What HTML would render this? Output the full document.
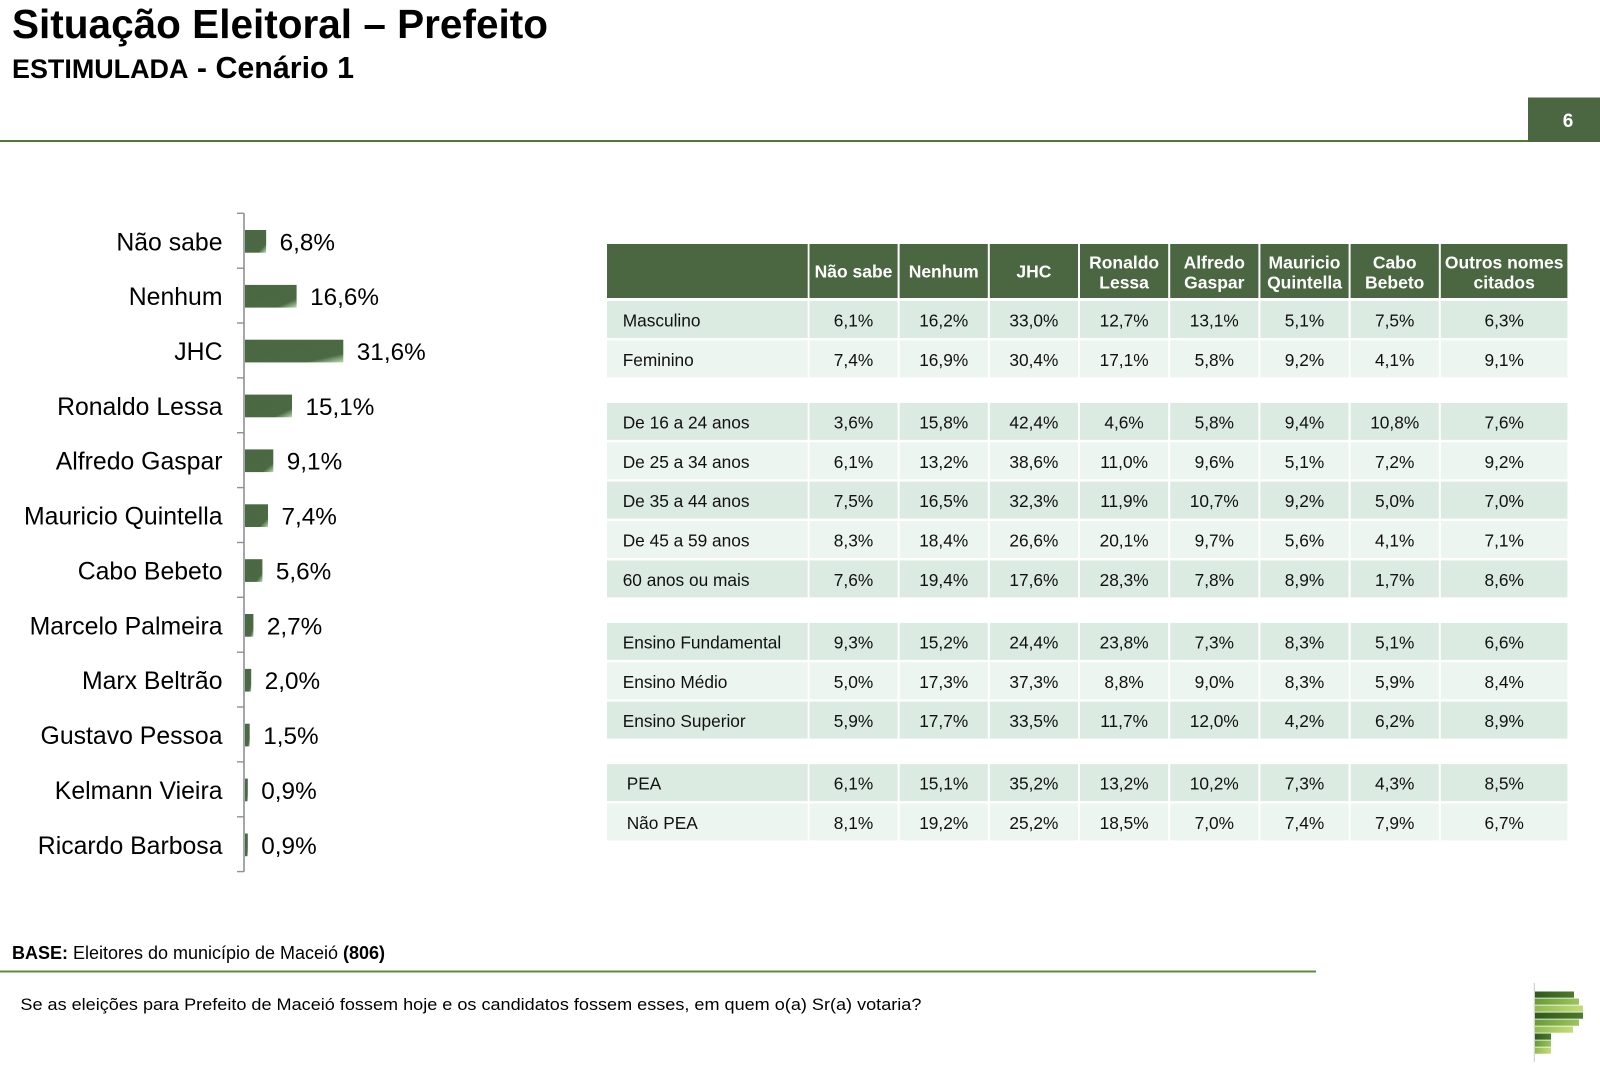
<!DOCTYPE html>
<html>
<head>
<meta charset="utf-8">
<style>
html,body{margin:0;padding:0;background:#fff;}
svg{display:block;}
text{font-family:"Liberation Sans",Arial,sans-serif;}
</style>
</head>
<body>
<svg width="1600" height="1070" viewBox="0 0 1600 1070" xmlns="http://www.w3.org/2000/svg">
<defs>
  <linearGradient id="bg" x1="0" y1="0" x2="1" y2="1">
    <stop offset="0" stop-color="#4a6741"/>
    <stop offset="0.8" stop-color="#4b6a43"/>
    <stop offset="1" stop-color="#b8dcb2"/>
  </linearGradient>
  <linearGradient id="lgD" x1="0" y1="0" x2="1" y2="0">
    <stop offset="0" stop-color="#2f5a1c"/>
    <stop offset="1" stop-color="#4d7a2c"/>
  </linearGradient>
  <linearGradient id="lgM" x1="0" y1="0" x2="1" y2="0">
    <stop offset="0" stop-color="#6a9a38"/>
    <stop offset="1" stop-color="#9cc45a"/>
  </linearGradient>
  <linearGradient id="lgL" x1="0" y1="0" x2="1" y2="0">
    <stop offset="0" stop-color="#8fbb4e"/>
    <stop offset="1" stop-color="#c2dc7a"/>
  </linearGradient>
</defs>
<rect x="0" y="0" width="1600" height="1070" fill="#fff"/>

<!-- Title -->
<text x="12" y="38" font-size="40.5" font-weight="bold" fill="#000" textLength="536" lengthAdjust="spacingAndGlyphs">Situação Eleitoral – Prefeito</text>
<text x="12" y="78" font-weight="bold" fill="#000" textLength="342" lengthAdjust="spacingAndGlyphs"><tspan font-size="27">ESTIMULADA</tspan><tspan font-size="30.5"> - Cenário 1</tspan></text>

<!-- header line and page box -->
<rect x="0" y="140" width="1530" height="2" fill="#4d7a2c"/>
<rect x="1528" y="97.5" width="72" height="44.5" fill="#4a6741"/>
<text x="1568" y="127" font-size="19" font-weight="bold" fill="#fff" text-anchor="middle">6</text>

<!-- Bar chart -->
<g>
  <line x1="244" y1="213.3" x2="244" y2="871.7" stroke="#8c9099" stroke-width="1.6"/>
  <g stroke="#8c9099" stroke-width="1.4">
    <line x1="237" y1="213.3" x2="244" y2="213.3"/>
    <line x1="237" y1="268.2" x2="244" y2="268.2"/>
    <line x1="237" y1="323.0" x2="244" y2="323.0"/>
    <line x1="237" y1="377.9" x2="244" y2="377.9"/>
    <line x1="237" y1="432.7" x2="244" y2="432.7"/>
    <line x1="237" y1="487.6" x2="244" y2="487.6"/>
    <line x1="237" y1="542.5" x2="244" y2="542.5"/>
    <line x1="237" y1="597.3" x2="244" y2="597.3"/>
    <line x1="237" y1="652.2" x2="244" y2="652.2"/>
    <line x1="237" y1="707.0" x2="244" y2="707.0"/>
    <line x1="237" y1="761.9" x2="244" y2="761.9"/>
    <line x1="237" y1="816.8" x2="244" y2="816.8"/>
    <line x1="237" y1="871.6" x2="244" y2="871.6"/>
  </g>
  <g fill="url(#bg)">
    <rect x="245" y="230.0" width="21.15" height="22.7"/>
    <rect x="245" y="284.9" width="51.6" height="22.7"/>
    <rect x="245" y="339.7" width="98.3" height="22.7"/>
    <rect x="245" y="394.6" width="47.0" height="22.7"/>
    <rect x="245" y="449.4" width="28.3" height="22.7"/>
    <rect x="245" y="504.3" width="23.0" height="22.7"/>
    <rect x="245" y="559.2" width="17.4" height="22.7"/>
    <rect x="245" y="614.0" width="8.4" height="22.7"/>
    <rect x="245" y="668.9" width="6.2" height="22.7"/>
    <rect x="245" y="723.7" width="4.7" height="22.7"/>
    <rect x="245" y="778.6" width="2.8" height="22.7"/>
    <rect x="245" y="833.5" width="2.8" height="22.7"/>
  </g>
  <g font-size="24.8" fill="#000" text-anchor="end">
    <text x="222.5" y="250.3">Não sabe</text>
    <text x="222.5" y="305.2">Nenhum</text>
    <text x="222.5" y="360.0">JHC</text>
    <text x="222.5" y="414.9">Ronaldo Lessa</text>
    <text x="222.5" y="469.7">Alfredo Gaspar</text>
    <text x="222.5" y="524.6">Mauricio Quintella</text>
    <text x="222.5" y="579.5">Cabo Bebeto</text>
    <text x="222.5" y="634.3">Marcelo Palmeira</text>
    <text x="222.5" y="689.2">Marx Beltrão</text>
    <text x="222.5" y="744.0">Gustavo Pessoa</text>
    <text x="222.5" y="798.9">Kelmann Vieira</text>
    <text x="222.5" y="853.8">Ricardo Barbosa</text>
  </g>
  <g font-size="24.3" fill="#000">
    <text x="279.6" y="250.3">6,8%</text>
    <text x="310.1" y="305.2">16,6%</text>
    <text x="356.8" y="360.0">31,6%</text>
    <text x="305.5" y="414.9">15,1%</text>
    <text x="286.8" y="469.7">9,1%</text>
    <text x="281.5" y="524.6">7,4%</text>
    <text x="275.9" y="579.5">5,6%</text>
    <text x="266.9" y="634.3">2,7%</text>
    <text x="264.7" y="689.2">2,0%</text>
    <text x="263.2" y="744.0">1,5%</text>
    <text x="261.3" y="798.9">0,9%</text>
    <text x="261.3" y="853.8">0,9%</text>
  </g>
</g>

<!-- Table -->
<g>
  <rect x="607" y="244" width="960.4" height="54" fill="#4a6741"/>
  <rect x="607" y="301.0" width="960.4" height="37" fill="#dcebe2"/>
  <rect x="607" y="340.4" width="960.4" height="37" fill="#edf5f0"/>
  <rect x="607" y="402.9" width="960.4" height="37" fill="#dcebe2"/>
  <rect x="607" y="442.3" width="960.4" height="37" fill="#edf5f0"/>
  <rect x="607" y="481.6" width="960.4" height="37" fill="#dcebe2"/>
  <rect x="607" y="521.0" width="960.4" height="37" fill="#edf5f0"/>
  <rect x="607" y="560.4" width="960.4" height="37" fill="#dcebe2"/>
  <rect x="607" y="622.9" width="960.4" height="37" fill="#dcebe2"/>
  <rect x="607" y="662.3" width="960.4" height="37" fill="#edf5f0"/>
  <rect x="607" y="701.6" width="960.4" height="37" fill="#dcebe2"/>
  <rect x="607" y="764.1" width="960.4" height="37" fill="#dcebe2"/>
  <rect x="607" y="803.5" width="960.4" height="37" fill="#edf5f0"/>
  <g fill="#fff">
    <rect x="807.7" y="240" width="1.8" height="605"/>
    <rect x="897.6" y="240" width="2" height="605"/>
    <rect x="987.8" y="240" width="2" height="605"/>
    <rect x="1078.0" y="240" width="2" height="605"/>
    <rect x="1168.2" y="240" width="2" height="605"/>
    <rect x="1258.4" y="240" width="2" height="605"/>
    <rect x="1348.6" y="240" width="2" height="605"/>
    <rect x="1438.8" y="240" width="2" height="605"/>
  </g>
  <g font-size="17.5" font-weight="bold" fill="#fff" text-anchor="middle">
    <text x="853.5" y="277.7">Não sabe</text>
    <text x="943.7" y="277.7">Nenhum</text>
    <text x="1033.9" y="277.7">JHC</text>
    <text x="1124.1" y="268.3">Ronaldo</text>
    <text x="1124.1" y="288.3">Lessa</text>
    <text x="1214.3" y="268.3">Alfredo</text>
    <text x="1214.3" y="288.3">Gaspar</text>
    <text x="1304.5" y="268.3">Mauricio</text>
    <text x="1304.5" y="288.3">Quintella</text>
    <text x="1394.7" y="268.3">Cabo</text>
    <text x="1394.7" y="288.3">Bebeto</text>
    <text x="1504.2" y="268.3">Outros nomes</text>
    <text x="1504.2" y="288.3">citados</text>
  </g>
  <g font-size="17.3" fill="#111">
    <text x="622.7" y="326.5">Masculino</text>
    <text x="622.7" y="365.9">Feminino</text>
    <text x="622.7" y="428.4">De 16 a 24 anos</text>
    <text x="622.7" y="467.8">De 25 a 34 anos</text>
    <text x="622.7" y="507.1">De 35 a 44 anos</text>
    <text x="622.7" y="546.5">De 45 a 59 anos</text>
    <text x="622.7" y="585.9">60 anos ou mais</text>
    <text x="622.7" y="648.4">Ensino Fundamental</text>
    <text x="622.7" y="687.8">Ensino Médio</text>
    <text x="622.7" y="727.1">Ensino Superior</text>
    <text x="626.7" y="789.6">PEA</text>
    <text x="626.7" y="829.0">Não PEA</text>
  </g>
  <g font-size="17.3" fill="#111" text-anchor="middle">
    <g transform="translate(0,326.5)">
      <text x="853.5">6,1%</text><text x="943.7">16,2%</text><text x="1033.9">33,0%</text><text x="1124.1">12,7%</text><text x="1214.3">13,1%</text><text x="1304.5">5,1%</text><text x="1394.7">7,5%</text><text x="1504.2">6,3%</text>
    </g>
    <g transform="translate(0,365.9)">
      <text x="853.5">7,4%</text><text x="943.7">16,9%</text><text x="1033.9">30,4%</text><text x="1124.1">17,1%</text><text x="1214.3">5,8%</text><text x="1304.5">9,2%</text><text x="1394.7">4,1%</text><text x="1504.2">9,1%</text>
    </g>
    <g transform="translate(0,428.4)">
      <text x="853.5">3,6%</text><text x="943.7">15,8%</text><text x="1033.9">42,4%</text><text x="1124.1">4,6%</text><text x="1214.3">5,8%</text><text x="1304.5">9,4%</text><text x="1394.7">10,8%</text><text x="1504.2">7,6%</text>
    </g>
    <g transform="translate(0,467.8)">
      <text x="853.5">6,1%</text><text x="943.7">13,2%</text><text x="1033.9">38,6%</text><text x="1124.1">11,0%</text><text x="1214.3">9,6%</text><text x="1304.5">5,1%</text><text x="1394.7">7,2%</text><text x="1504.2">9,2%</text>
    </g>
    <g transform="translate(0,507.1)">
      <text x="853.5">7,5%</text><text x="943.7">16,5%</text><text x="1033.9">32,3%</text><text x="1124.1">11,9%</text><text x="1214.3">10,7%</text><text x="1304.5">9,2%</text><text x="1394.7">5,0%</text><text x="1504.2">7,0%</text>
    </g>
    <g transform="translate(0,546.5)">
      <text x="853.5">8,3%</text><text x="943.7">18,4%</text><text x="1033.9">26,6%</text><text x="1124.1">20,1%</text><text x="1214.3">9,7%</text><text x="1304.5">5,6%</text><text x="1394.7">4,1%</text><text x="1504.2">7,1%</text>
    </g>
    <g transform="translate(0,585.9)">
      <text x="853.5">7,6%</text><text x="943.7">19,4%</text><text x="1033.9">17,6%</text><text x="1124.1">28,3%</text><text x="1214.3">7,8%</text><text x="1304.5">8,9%</text><text x="1394.7">1,7%</text><text x="1504.2">8,6%</text>
    </g>
    <g transform="translate(0,648.4)">
      <text x="853.5">9,3%</text><text x="943.7">15,2%</text><text x="1033.9">24,4%</text><text x="1124.1">23,8%</text><text x="1214.3">7,3%</text><text x="1304.5">8,3%</text><text x="1394.7">5,1%</text><text x="1504.2">6,6%</text>
    </g>
    <g transform="translate(0,687.8)">
      <text x="853.5">5,0%</text><text x="943.7">17,3%</text><text x="1033.9">37,3%</text><text x="1124.1">8,8%</text><text x="1214.3">9,0%</text><text x="1304.5">8,3%</text><text x="1394.7">5,9%</text><text x="1504.2">8,4%</text>
    </g>
    <g transform="translate(0,727.1)">
      <text x="853.5">5,9%</text><text x="943.7">17,7%</text><text x="1033.9">33,5%</text><text x="1124.1">11,7%</text><text x="1214.3">12,0%</text><text x="1304.5">4,2%</text><text x="1394.7">6,2%</text><text x="1504.2">8,9%</text>
    </g>
    <g transform="translate(0,789.6)">
      <text x="853.5">6,1%</text><text x="943.7">15,1%</text><text x="1033.9">35,2%</text><text x="1124.1">13,2%</text><text x="1214.3">10,2%</text><text x="1304.5">7,3%</text><text x="1394.7">4,3%</text><text x="1504.2">8,5%</text>
    </g>
    <g transform="translate(0,829.0)">
      <text x="853.5">8,1%</text><text x="943.7">19,2%</text><text x="1033.9">25,2%</text><text x="1124.1">18,5%</text><text x="1214.3">7,0%</text><text x="1304.5">7,4%</text><text x="1394.7">7,9%</text><text x="1504.2">6,7%</text>
    </g>
  </g>
</g>

<!-- Footer -->
<text x="12" y="959" font-size="18" fill="#000" textLength="373" lengthAdjust="spacingAndGlyphs"><tspan font-weight="bold">BASE:</tspan> Eleitores do município de Maceió <tspan font-weight="bold">(806)</tspan></text>
<rect x="0" y="970.5" width="1316" height="2" fill="#5e8b3e"/>
<text x="20.4" y="1010" font-size="17" fill="#000" textLength="901" lengthAdjust="spacingAndGlyphs">Se as eleições para Prefeito de Maceió fossem hoje e os candidatos fossem esses, em quem o(a) Sr(a) votaria?</text>

<!-- Logo -->
<g>
  <line x1="1534.3" y1="983" x2="1534.3" y2="1062" stroke="#c8c8c8" stroke-width="1"/>
  <rect x="1535" y="991.5" width="39" height="6.2" fill="url(#lgD)"/>
  <rect x="1535" y="998.5" width="44" height="6.2" fill="url(#lgM)"/>
  <rect x="1535" y="1005.5" width="48" height="6.2" fill="url(#lgL)"/>
  <rect x="1535" y="1012.5" width="48" height="6.2" fill="url(#lgD)"/>
  <rect x="1535" y="1019.5" width="44" height="6.2" fill="url(#lgM)"/>
  <rect x="1535" y="1026.5" width="38" height="6.2" fill="url(#lgL)"/>
  <rect x="1535" y="1033.5" width="16" height="6.2" fill="url(#lgD)"/>
  <rect x="1535" y="1040.5" width="16" height="6.2" fill="url(#lgM)"/>
  <rect x="1535" y="1047.5" width="16" height="6.2" fill="url(#lgL)"/>
</g>
</svg>
</body>
</html>
